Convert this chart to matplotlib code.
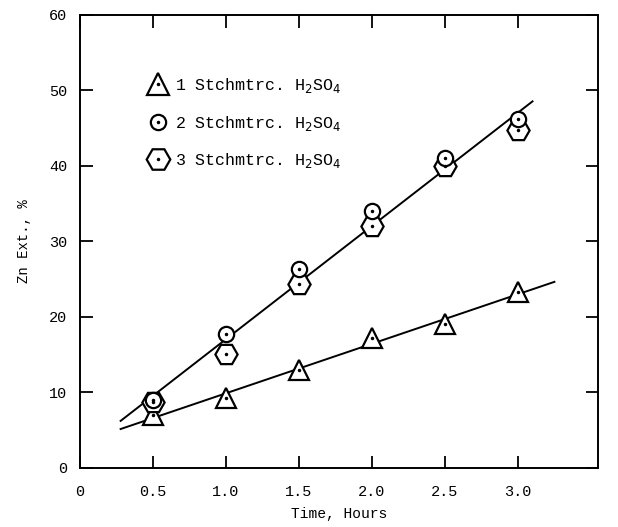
import numpy as np
import matplotlib.pyplot as plt
from matplotlib.lines import Line2D
from matplotlib.legend_handler import HandlerTuple

plt.rcParams['font.family'] = ['Liberation Mono', 'DejaVu Sans Mono']
plt.rcParams['mathtext.fontset'] = 'dejavusans'

# time, hours
hours = [0.5, 1.0, 1.5, 2.0, 2.5, 3.0]
# Zn extraction, %
zn_1x = [7.0, 9.3, 13.0, 17.2, 19.0, 23.3]
zn_2x = [9.0, 17.8, 26.4, 34.0, 41.0, 46.2]
zn_3x = [8.8, 15.1, 24.4, 32.0, 40.0, 44.7]
labels = ['1 Stchmtrc. H$_2$SO$_4$', '2 Stchmtrc. H$_2$SO$_4$', '3 Stchmtrc. H$_2$SO$_4$']

# extents of the drawn fit lines
fit_lo_range = [0.28, 3.25]
fit_hi_range = [0.28, 3.1]

fig = plt.figure(figsize=(6.18, 5.27), dpi=100)
ax = fig.add_axes([0.129, 0.112, 0.839, 0.860])

# fitted straight lines
p_lo = np.polyfit(hours, zn_1x, 1)
p_hi = np.polyfit(hours * 2, zn_2x + zn_3x, 1)
xl = np.array(fit_lo_range)
xh = np.array(fit_hi_range)
ax.plot(xl, np.polyval(p_lo, xl), color='black', lw=1.4, zorder=1)
ax.plot(xh, np.polyval(p_hi, xh), color='black', lw=1.4, zorder=1)

mk = dict(mfc='white', mec='black', mew=1.6, ls='none')
ax.plot(hours, zn_1x, marker='^', ms=15, zorder=3, **mk)
ax.plot(hours, zn_3x, marker='H', ms=16, zorder=3, **mk)
ax.plot(hours, zn_2x, marker='o', ms=11, zorder=4, **mk)
for ys in (zn_1x, zn_3x, zn_2x):
    ax.plot(hours, ys, marker='.', ms=3, color='black', ls='none', zorder=5)

# legend
dot = Line2D([], [], marker='.', ms=3, color='black', ls='none')
handles = [
    (Line2D([], [], marker='^', ms=16, **mk), dot),
    (Line2D([], [], marker='o', ms=11, **mk), dot),
    (Line2D([], [], marker='H', ms=17, **mk), dot),
]
ax.legend(handles, labels, handler_map={tuple: HandlerTuple(ndivide=1, pad=0)},
          frameon=False, loc='upper left', bbox_to_anchor=(0.100, 0.898),
          fontsize=12, handlelength=1.4, handletextpad=0.3, labelspacing=1.12)

ax.set_xlim(0, 3.55)
ax.set_ylim(0, 60)
ax.set_xticks([0, 0.5, 1.0, 1.5, 2.0, 2.5, 3.0])
ax.set_xticklabels(['0', '0.5', '1.0', '1.5', '2.0', '2.5', '3.0'])
ax.set_yticks([0, 10, 20, 30, 40, 50, 60])
ax.tick_params(direction='in', length=9, width=1.3, top=True, right=True, labelsize=11)
ax.tick_params(axis='x', pad=12)
ax.tick_params(axis='y', pad=9)
for s in ax.spines.values():
    s.set_linewidth(1.4)

ax.set_xlabel('Time, Hours', fontsize=10.5, labelpad=6)
ax.set_ylabel('Zn Ext., %', fontsize=10, labelpad=13)

fig.savefig('out.png', dpi=100)
